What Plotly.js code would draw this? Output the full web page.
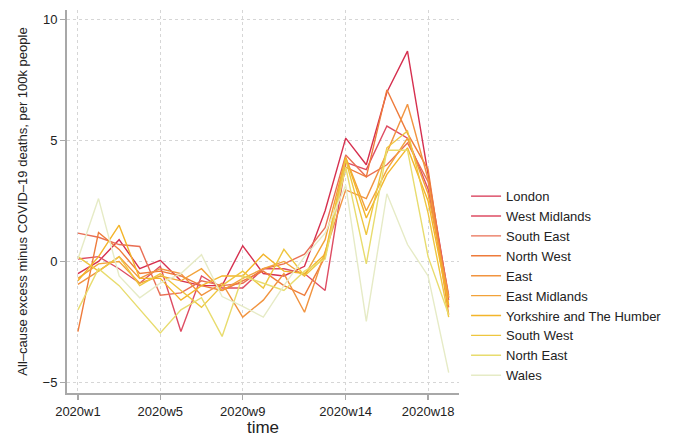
<!DOCTYPE html>
<html>
<head>
<meta charset="utf-8">
<script src="https://cdn.plot.ly/plotly-3.0.1.min.js"></script>
<style>html,body{margin:0;padding:0;background:#fff;}#chart{width:677px;height:437px;}</style>
</head>
<body>
<div id="chart"></div>
<script>
const weeks = [1,2,3,4,5,6,7,8,9,10,11,12,13,14,15,16,17,18,19];
const tickWeeks = [1,5,9,14,18];
const tickLabels = ["2020w1","2020w5","2020w9","2020w14","2020w18"];
const regions = ["London","West Midlands","South East","North West","East","East Midlands","Yorkshire and The Humber","South West","North East","Wales"];
const colors = ["#d6304f","#de4d63","#e96f55","#ee7b3b","#f19440","#f2a23a","#f3b52a","#eec63f","#e8dc6e","#e6ebc6"];

const london       = [-0.5, 0.0, 0.9, -0.3, 0.05, -0.8, -1.0, -1.0, 0.65, -0.5, -0.6, -0.2, 2.1, 5.1, 4.0, 7.0, 8.7, 3.6, -1.5];
const westMidlands = [0.1, 0.2, -0.3, -0.9, -0.2, -2.9, -0.6, -1.1, -1.1, -0.3, -0.3, -0.5, -1.2, 4.1, 3.8, 5.6, 5.1, 3.0, -1.6];
const southEast    = [1.17, 1.0, 0.7, 0.62, -1.4, -1.3, -0.8, -1.0, -0.9, -0.3, -0.1, 0.3, 1.4, 4.4, 3.5, 4.0, 4.9, 3.3, -1.4];
const northWest    = [-2.9, 1.2, 0.5, -0.5, -0.4, -0.6, -1.0, -1.2, -0.8, -0.4, -1.0, -1.4, 0.2, 3.9, 3.5, 7.1, 5.3, 3.8, -1.9];
const east         = [-0.95, -0.4, 0.2, -0.7, -0.3, -0.5, -1.4, -0.9, -2.3, -1.6, -0.5, -2.1, 0.4, 2.96, 2.6, 4.5, 6.5, 3.4, -2.2];
const eastMidlands = [-0.7, -0.1, 0.0, -0.9, -0.6, -0.8, -0.3, -1.2, -0.7, -0.3, 0.0, -0.6, 0.9, 4.3, 2.1, 3.8, 5.1, 2.8, -1.5];
const yorkshire    = [-0.8, 0.2, 1.5, -0.7, -0.7, -1.6, -1.0, -0.6, -0.6, 0.3, -0.4, -0.5, 0.3, 4.3, 1.8, 3.6, 4.7, 2.5, -1.8];
const southWest    = [0.2, -0.4, 0.2, -1.0, -0.5, -1.2, -1.9, -1.0, -0.4, -1.1, 0.5, -0.6, 0.2, 4.2, 1.1, 4.7, 5.4, 2.0, -2.3];
const northEast    = [-2.0, -0.3, -1.0, -2.0, -2.96, -2.0, -1.5, -3.1, -0.6, -0.9, -1.2, -0.4, 0.1, 3.9, -0.1, 4.6, 4.6, 0.2, -2.2];
const wales        = [0.1, 2.6, -0.6, -1.5, -0.9, -0.5, 0.28, -1.45, -1.86, -2.3, -1.0, 0.2, 1.17, 3.15, -2.48, 2.8, 0.7, -0.6, -4.6];

const series = [london, westMidlands, southEast, northWest, east, eastMidlands, yorkshire, southWest, northEast, wales];

const traces = series.map((vals, i) => ({
  x: weeks, y: vals, type: 'scatter', mode: 'lines', name: regions[i],
  line: {color: colors[i], width: 1.4}
}));

const fontFam = 'Liberation Sans, Arial, sans-serif';
const layout = {
  width: 677, height: 437,
  margin: {l: 67, r: 215, t: 10, b: 44},
  paper_bgcolor: '#fff', plot_bgcolor: '#fff',
  font: {family: fontFam, color: '#222', size: 13},
  showlegend: true,
  legend: {x: 1.018, xanchor: 'left', y: 0.279, yanchor: 'middle', font: {size: 13, family: fontFam}, bgcolor: 'rgba(0,0,0,0)', tracegroupgap: 0},
  xaxis: {
    range: [0.47, 19.5], tickvals: tickWeeks, ticktext: tickLabels,
    showgrid: true, gridcolor: '#d6d6d6', griddash: 'dot', gridwidth: 1,
    showline: true, linecolor: '#a8a8a8', linewidth: 2,
    ticks: 'outside', ticklen: 5, tickcolor: '#a8a8a8', tickwidth: 1.5,
    zeroline: false, tickfont: {size: 13},
    title: {text: 'time', font: {size: 17}, standoff: 12}
  },
  yaxis: {
    range: [-5.44, 10.4], tickvals: [-5, 0, 5, 10],
    showgrid: true, gridcolor: '#d6d6d6', griddash: 'dot', gridwidth: 1,
    showline: true, linecolor: '#a8a8a8', linewidth: 2,
    ticks: 'outside', ticklen: 5, tickcolor: '#a8a8a8', tickwidth: 1.5,
    zeroline: false, tickfont: {size: 13},
    title: {text: 'All–cause excess minus COVID–19 deaths, per 100k people', font: {size: 13}, standoff: 12}
  }
};

Plotly.newPlot('chart', traces, layout, {displayModeBar: false, staticPlot: true});
</script>
</body>
</html>
